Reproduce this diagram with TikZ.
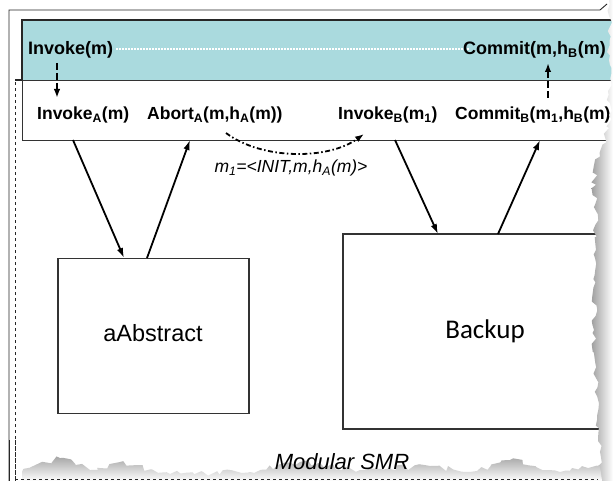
\documentclass[tikz,border=0pt]{standalone}
\usepackage{fontspec}
\setmainfont{Liberation Sans}
\newfontfamily\calib{Carlito}
\usetikzlibrary{arrows.meta,decorations.pathmorphing}
\definecolor{teal1}{RGB}{170,218,222}
\begin{document}
\begin{tikzpicture}[x=1pt,y=-1pt,
  lbl/.style={font=\bfseries\fontsize{17.5}{21}\selectfont, inner sep=0pt, anchor=west},
  comp/.style={draw=black!80, line width=1.4pt, fill=white, inner sep=0pt},
  flow/.style={-{Latex[length=10pt,width=6.5pt]}, line width=1.8pt},
  ctrl/.style={-{Latex[length=9pt,width=6.5pt]}, line width=1.8pt, dash pattern=on 7pt off 3pt},
  frame/.style={line width=0.9pt, black!85},
  torn/.style={decoration={random steps,segment length=5pt,amplitude=3pt}}]
\pgfmathsetseed{7}
\useasboundingbox (0,0) rectangle (613,481);
\fill[white] (0,0) rectangle (613,481);
% outer frame
\draw[frame] (9,481) -- (9,10) -- (600,10) -- (607,4);
\draw[frame, dashed] (15,481) -- (15,80);
% teal band
\fill[teal1] (22,20) rectangle (613,80);
\draw[frame, line width=1.2pt] (22,80) -- (22,20) -- (613,20);
\draw[white, line width=1.3pt, dash pattern=on 1.5pt off 1.5pt] (116,49) -- (470,49);
% interface box
\node[comp, anchor=north west, minimum width=600pt, minimum height=60pt] (iface) at (22,80) {};
\draw[frame, line width=1.4pt] (15,80) -- (22,80);
% top labels
\node[lbl, font=\bfseries\fontsize{18}{21}\selectfont] (inv) at (28,50) {Invoke(m)};
\node[lbl, font=\bfseries\fontsize{18}{21}\selectfont] (com) at (463,50) {Commit(m,h\textsubscript{B}(m)};
% row labels
\node[lbl] (ia) at (37,115) {Invoke\textsubscript{A}(m)};
\node[lbl] (ab) at (147,115) {Abort\textsubscript{A}(m,h\textsubscript{A}(m))};
\node[lbl] (ib) at (338,115) {Invoke\textsubscript{B}(m\textsubscript{1})};
\node[lbl] (cb) at (455,115) {Commit\textsubscript{B}(m\textsubscript{1},h\textsubscript{B}(m)};
% modules
\node[comp, minimum width=191pt, minimum height=155pt] (abs) at (153.5,336) {};
\node[font=\fontsize{23.5}{26}\selectfont] (abst) at (153,333) {aAbstract};
\node[comp, minimum width=297pt, minimum height=195pt] (bak) at (491.5,331.5) {};
\node[font=\calib\fontsize{27}{30}\selectfont] (bakt) at (485,331) {Backup};
% connector points
\coordinate (p1) at (57,63);  \coordinate (p2) at (57,98);
\coordinate (q1) at (548,98); \coordinate (q2) at (548,63);
\coordinate (a1) at (73,140);  \coordinate (a2) at (124,258);
\coordinate (b1) at (147,258); \coordinate (b2) at (190,140);
\coordinate (c1) at (395,140); \coordinate (c2) at (438,234);
\coordinate (d1) at (498,234); \coordinate (d2) at (540,140);
\coordinate (m1) at (226,133); \coordinate (m2) at (364,134);
\draw[ctrl] (p1) -- (p2);
\draw[ctrl] (q1) -- (q2);
\draw[flow] (a1) -- (a2);
\draw[flow] (b1) -- (b2);
\draw[flow] (c1) -- (c2);
\draw[flow] (d1) -- (d2);
\draw[-{Latex[length=9pt,width=6.5pt]}, line width=1.8pt, dash pattern=on 5pt off 2.5pt on 1.5pt off 2.5pt]
  (m1) .. controls (262,160) and (328,160) .. (m2);
\node[font=\itshape\fontsize{17.5}{20}\selectfont, inner sep=0pt] (msg) at (291,168)
  {m\textsubscript{1}=<INIT,m,h\textsubscript{A}(m)>};
% torn edges
\shade[left color=gray!75, right color=white, torn]
  (613,0) -- (609,0) decorate{ -- (609,60) -- (609,128) -- (594,165) -- (596,250) -- (594,330) -- (597,420) -- (602,481)} -- (613,481) -- cycle;
\shade[top color=gray!70, bottom color=white, torn]
  (22,481) -- (22,472) decorate{ -- (60,458) -- (90,470) -- (120,462) -- (170,474) -- (250,472) -- (300,462) -- (360,470) -- (430,466) -- (470,472) -- (510,460) -- (560,472) -- (600,466)} -- (602,481) -- cycle;
\draw[frame] (9,440) -- (9,481);
\draw[frame, dashed] (15,440) -- (15,481);
\draw[frame, dashed, line width=0.6pt] (15,479) -- (598,479);
\node[font=\itshape\fontsize{22}{26}\selectfont, inner sep=0pt] (smr) at (342,462) {Modular SMR};
\end{tikzpicture}
\end{document}
